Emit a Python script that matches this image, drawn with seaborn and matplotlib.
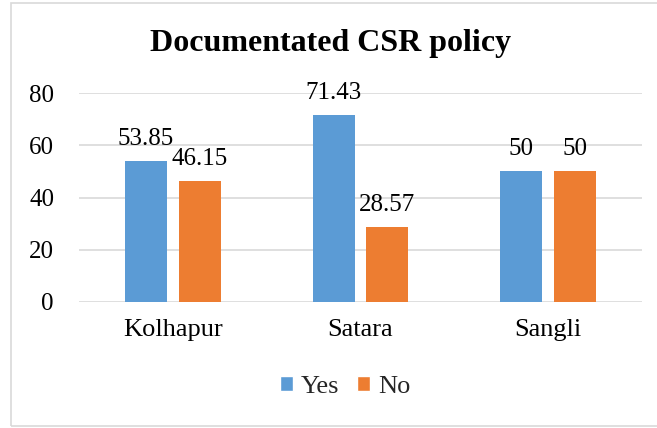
import pandas as pd
import matplotlib

matplotlib.use("Agg")
import matplotlib.pyplot as plt
import seaborn as sns
from matplotlib.patches import Rectangle, Patch
from matplotlib.font_manager import FontProperties

# chart data
districts = ["Kolhapur", "Satara", "Sangli"]
yes_pct = [53.85, 71.43, 50]
no_pct = [46.15, 28.57, 50]
yes_labels = ["53.85", "71.43", "50"]
no_labels = ["46.15", "28.57", "50"]
y_ticks = [0, 20, 40, 60, 80]

BLUE = "#5B9BD5"
ORANGE = "#ED7D31"
GRID = "#D9D9D9"
SERIF = ["Liberation Serif", "DejaVu Serif"]

df = pd.DataFrame(
    {
        "District": districts * 2,
        "Response": ["Yes"] * len(districts) + ["No"] * len(districts),
        "Percent": yes_pct + no_pct,
    }
)

sns.set_theme(style="white")
plt.rcParams["font.family"] = SERIF

fig = plt.figure(figsize=(6.57, 4.28), dpi=100)
ax = fig.add_axes([79 / 657, 1 - 302 / 428, (642 - 79) / 657, (302 - 93) / 428])

sns.barplot(
    data=df,
    x="District",
    y="Percent",
    hue="Response",
    hue_order=["Yes", "No"],
    palette={"Yes": BLUE, "No": ORANGE},
    saturation=1,
    width=0.57,
    gap=0.215,
    linewidth=0,
    errorbar=None,
    legend=False,
    ax=ax,
    zorder=3,
)

# value labels above the bars
for container, labels in zip(ax.containers, [yes_labels, no_labels]):
    ax.bar_label(container, labels=labels, padding=8, fontsize=18,
                 color="#000000", family=SERIF)

ax.set_ylim(0, 80)
ax.set_xlim(-0.5, 2.5)
ax.set_yticks(y_ticks)
ax.set_yticklabels([str(t) for t in y_ticks], family=SERIF, fontsize=18)
ax.set_xticks(range(len(districts)))
ax.set_xticklabels(districts, family=SERIF, fontsize=19)
ax.yaxis.grid(True, color=GRID, linewidth=1.2, zorder=0)
ax.set_axisbelow(True)
for side in ["top", "right", "left", "bottom"]:
    ax.spines[side].set_visible(False)
ax.tick_params(axis="y", length=0, pad=18, labelcolor="#000000")
ax.tick_params(axis="x", length=0, pad=12, labelcolor="#000000")
ax.set_xlabel("")
ax.set_ylabel("")

fig.text(
    331 / 657,
    1 - 44 / 428,
    "Documentated CSR policy",
    ha="center",
    va="center",
    fontsize=23,
    fontweight="bold",
    family=SERIF,
    color="#000000",
)

handles = [Patch(facecolor=BLUE, label="Yes"), Patch(facecolor=ORANGE, label="No")]
fig.legend(
    handles=handles,
    loc="center",
    bbox_to_anchor=(345 / 657, 1 - 387 / 428),
    ncol=2,
    frameon=False,
    prop=FontProperties(family=SERIF, size=19),
    handlelength=0.5,
    handleheight=0.5,
    handletextpad=0.3,
    columnspacing=0.65,
)

# chart border
fig.add_artist(
    Rectangle(
        (11 / 657, 1 - 426 / 428),
        0.999,
        423 / 428,
        transform=fig.transFigure,
        fill=False,
        edgecolor=GRID,
        linewidth=1.2,
    )
)

fig.savefig("out.png", dpi=100)
plt.close(fig)
